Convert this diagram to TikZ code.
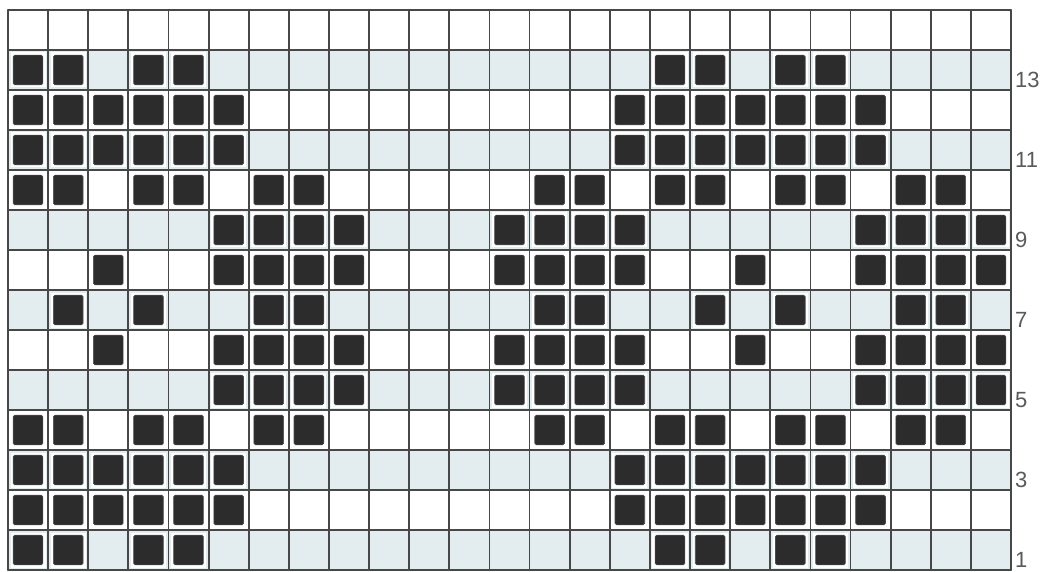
\documentclass[tikz,border=0pt]{standalone}
\usepackage{fontspec}
\setmainfont{Liberation Sans}
\definecolor{rowshade}{HTML}{E3ECEE}
\definecolor{gridgray}{HTML}{474747}
\definecolor{stitchdark}{HTML}{2C2C2C}
\definecolor{labelgray}{HTML}{5A5A5A}
\begin{document}
\begin{tikzpicture}[x=1pt, y=1pt, line join=round, line cap=round,
		gridline/.style={gridgray, line width=1.8pt},
		stitchbox/.style={fill=stitchdark, draw=black!70, line width=0.6pt, rounded corners=1.5pt},
		rowlabel/.style={font=\fontsize{22}{22}\selectfont, text=labelgray, inner sep=0pt, anchor=base west}]
				\def\cw{40.12}
				\def\ch{40}
				\def\xo{8}
				\def\yo{1}
				\useasboundingbox (0, 0) rectangle (1046, 571);
				\fill[white] (0, 0) rectangle (1046, 571);
				% shaded odd rows
				\foreach \r in {1,3,...,13}
				\fill[rowshade] (\xo, {\yo+(\r-1)*\ch}) rectangle ({\xo+25*\cw}, {\yo+\r*\ch});
				% dark stitches, row by row
				\foreach \r/\cols in {1/{1,2,4,5,17,18,20,21},
					2/{1,2,3,4,5,6,16,17,18,19,20,21,22},
					3/{1,2,3,4,5,6,16,17,18,19,20,21,22},
					4/{1,2,4,5,7,8,14,15,17,18,20,21,23,24},
					5/{6,7,8,9,13,14,15,16,22,23,24,25},
					6/{3,6,7,8,9,13,14,15,16,19,22,23,24,25},
					7/{2,4,7,8,14,15,18,20,23,24},
					8/{3,6,7,8,9,13,14,15,16,19,22,23,24,25},
					9/{6,7,8,9,13,14,15,16,22,23,24,25},
					10/{1,2,4,5,7,8,14,15,17,18,20,21,23,24},
					11/{1,2,3,4,5,6,16,17,18,19,20,21,22},
					12/{1,2,3,4,5,6,16,17,18,19,20,21,22},
					13/{1,2,4,5,17,18,20,21}}
				\foreach \c in \cols {
					\fill[white] ({\xo+(\c-1)*\cw+2.5}, {\yo+(\r-1)*\ch+2.5}) rectangle ({\xo+\c*\cw-2.5}, {\yo+\r*\ch-2.5});
					\filldraw[stitchbox] ({\xo+(\c-1)*\cw+5.2}, {\yo+(\r-1)*\ch+5.2}) rectangle ({\xo+\c*\cw-5.2}, {\yo+\r*\ch-5.2});
				}
				% grid
				\foreach \c in {0,...,25}
				\draw[gridline] ({\xo+\c*\cw}, \yo) -- ({\xo+\c*\cw}, {\yo+14*\ch});
				\foreach \r in {0,...,14}
				\draw[gridline] (\xo, {\yo+\r*\ch}) -- ({\xo+25*\cw}, {\yo+\r*\ch});
				% row numbers
				\foreach \r in {1,3,...,13}
				\node[rowlabel] (row\r) at ({\xo+25*\cw+4}, {\yo+(\r-1)*\ch+2.5}) {\r};
			\end{tikzpicture}
\end{document}
